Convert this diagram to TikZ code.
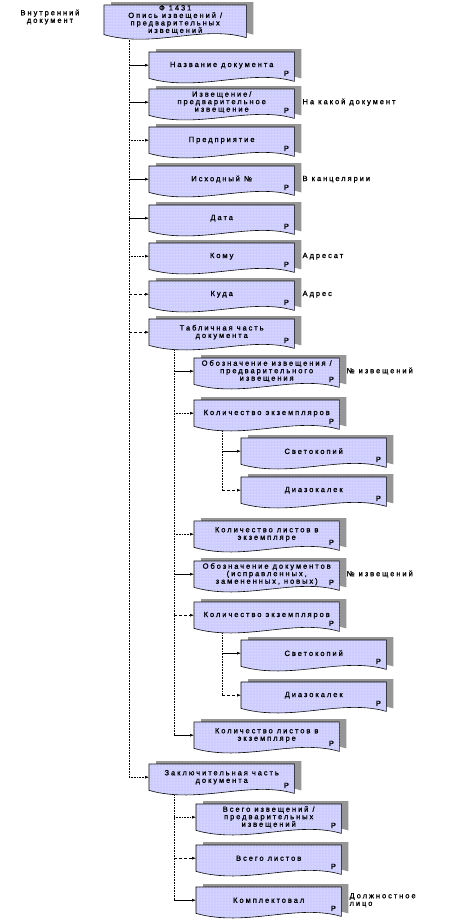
\documentclass[tikz,border=0pt]{standalone}
\usepackage{fontspec}
\setmainfont{Liberation Sans}
\newfontfamily\boxfont[LetterSpace=26,FakeBold=1.2]{Liberation Sans}
\usetikzlibrary{arrows.meta,backgrounds,patterns}

\definecolor{docfill}{RGB}{204,204,255}
\definecolor{docshadow}{RGB}{150,150,150}

% outline of a "document" box, shifted by (#2,#3)
\newcommand\docpath[3]{([shift={(#2,#3)}]#1.north west) -- ([shift={(#2,#3)}]#1.north east)
  -- ([shift={(#2,#3-3pt)}]#1.south east)
  .. controls ([shift={(#2-45pt,#3+10pt)}]#1.south east) and ([shift={(#2+50pt,#3-14pt)}]#1.south west)
  .. ([shift={(#2,#3)}]#1.south west) -- cycle}

\begin{document}
\begin{tikzpicture}[x=1pt, y=-1pt,
  every node/.style={font=\boxfont\fontsize{7.5}{7.5}\selectfont},
  doc/.style={anchor=north west, minimum width=145pt, minimum height=26pt, inner sep=0pt, align=center},
  note/.style={anchor=west, align=left, inner sep=0pt},
  link/.style={-{Latex[length=4pt,width=3pt]}, line width=0.6pt},
  optlink/.style={link, densely dotted},
  dashlink/.style={link, dash pattern=on 3pt off 2pt},
  bus/.style={line width=0.6pt, densely dotted}]
  \useasboundingbox (0,0) rectangle (454,924);

  \node[doc, minimum width=142pt, minimum height=28pt] (top) at (104,5) {Ф 1431\\Опись извещений /\\предварительных\\извещений};
  \node[note, anchor=center, align=center] (intdoc) at (50,17) {Внутренний\\документ};

  \node[doc] (n1) at (149,52) {Название документа};
  \node[doc] (n2) at (149,89) {Извещение/\\предварительное\\извещение};
  \node[doc] (n3) at (149,127) {Предприятие};
  \node[doc] (n4) at (149,166) {Исходный №};
  \node[doc] (n5) at (149,205) {Дата};
  \node[doc] (n6) at (149,243) {Кому};
  \node[doc] (n7) at (149,281) {Куда};
  \node[doc] (n8) at (149,319) {Табличная часть\\документа};
  \node[doc] (t1) at (194,358) {Обозначение извещения /\\предварительного\\извещения};
  \node[doc] (t2) at (194,400) {Количество экземпляров};
  \node[doc] (s1) at (241,438) {Светокопий};
  \node[doc] (s2) at (241,477) {Диазокалек};
  \node[doc] (t3) at (194,521) {Количество листов в\\экземпляре};
  \node[doc] (t4) at (194,561) {Обозначение документов\\(исправленных,\\замененных, новых)};
  \node[doc] (t5) at (194,602) {Количество экземпляров};
  \node[doc] (s3) at (241,640) {Светокопий};
  \node[doc] (s4) at (241,682) {Диазокалек};
  \node[doc] (t6) at (194,722) {Количество листов в\\экземпляре};
  \node[doc] (n9) at (149,764) {Заключительная часть\\документа};
  \node[doc] (z1) at (196,804) {Всего извещений /\\предварительных\\извещений};
  \node[doc] (z2) at (196,845) {Всего листов};
  \node[doc] (z3) at (196,887) {Комплектовал};

  \foreach \n in {n1,n2,n3,n4,n5,n6,n7,n8,t1,t2,s1,s2,t3,t4,t5,s3,s4,t6,n9,z1,z2,z3}
    \node (\n-p) at ([xshift=-8pt,yshift=5pt]\n.south east) {Р};

  % notes on the right
  \node[note] (n2-note) at ([xshift=8pt]n2.east) {На какой документ};
  \node[note] (n4-note) at ([xshift=8pt]n4.east) {В канцелярии};
  \node[note] (n6-note) at ([xshift=8pt]n6.east) {Адресат};
  \node[note] (n7-note) at ([xshift=8pt]n7.east) {Адрес};
  \node[note] (t1-note) at ([xshift=7pt]t1.east) {№ извещений};
  \node[note] (t4-note) at ([xshift=7pt]t4.east) {№ извещений};
  \node[note] (z3-note) at ([xshift=8pt]z3.east) {Должностное\\лицо};

  % buses
  \coordinate (topbus) at ([xshift=25pt,yshift=-5pt]top.south west);
  \coordinate (n8bus) at ([xshift=25pt,yshift=-5pt]n8.south west);
  \coordinate (t2bus) at ([xshift=28pt,yshift=-5pt]t2.south west);
  \coordinate (t5bus) at ([xshift=28pt,yshift=-5pt]t5.south west);
  \coordinate (n9bus) at ([xshift=25pt,yshift=-5pt]n9.south west);
  \draw[bus] (topbus) -- (topbus |- n9.west);
  \draw[bus] (n8bus) -- (n8bus |- t6.west);
  \draw[bus] (t2bus) -- (t2bus |- s2.west);
  \draw[bus] (t5bus) -- (t5bus |- s4.west);
  \draw[bus] (n9bus) -- (n9bus |- z3.west);

  \foreach \c/\s in {n1/link,n2/link,n3/optlink,n4/link,n5/link,n6/optlink,n7/dashlink,n8/dashlink,n9/optlink}
    \draw[\s] (topbus |- \c.west) -- (\c.west);
  \foreach \c/\s in {t1/link,t2/optlink,t3/optlink,t4/link,t5/dashlink,t6/link}
    \draw[\s] (n8bus |- \c.west) -- (\c.west);
  \draw[link] (t2bus |- s1.west) -- (s1.west);
  \draw[dashlink] (t2bus |- s2.west) -- (s2.west);
  \draw[link] (t5bus |- s3.west) -- (s3.west);
  \draw[dashlink] (t5bus |- s4.west) -- (s4.west);
  \foreach \c/\s in {z1/optlink,z2/dashlink,z3/link}
    \draw[\s] (n9bus |- \c.west) -- (\c.west);

  \begin{scope}[on background layer]
    \fill[white] (0,0) rectangle (454,924);
    \foreach \n in {top,n1,n2,n3,n4,n5,n6,n7,n8,t1,t2,s1,s2,t3,t4,t5,s3,s4,t6,n9,z1,z2,z3} {
      \fill[docshadow] \docpath{\n}{7pt}{3pt};
      \filldraw[fill=docfill, line width=0.6pt] \docpath{\n}{0pt}{0pt};
      \fill[pattern=dots, pattern color=white] \docpath{\n}{0pt}{0pt};
    }
  \end{scope}
\end{tikzpicture}
\end{document}
